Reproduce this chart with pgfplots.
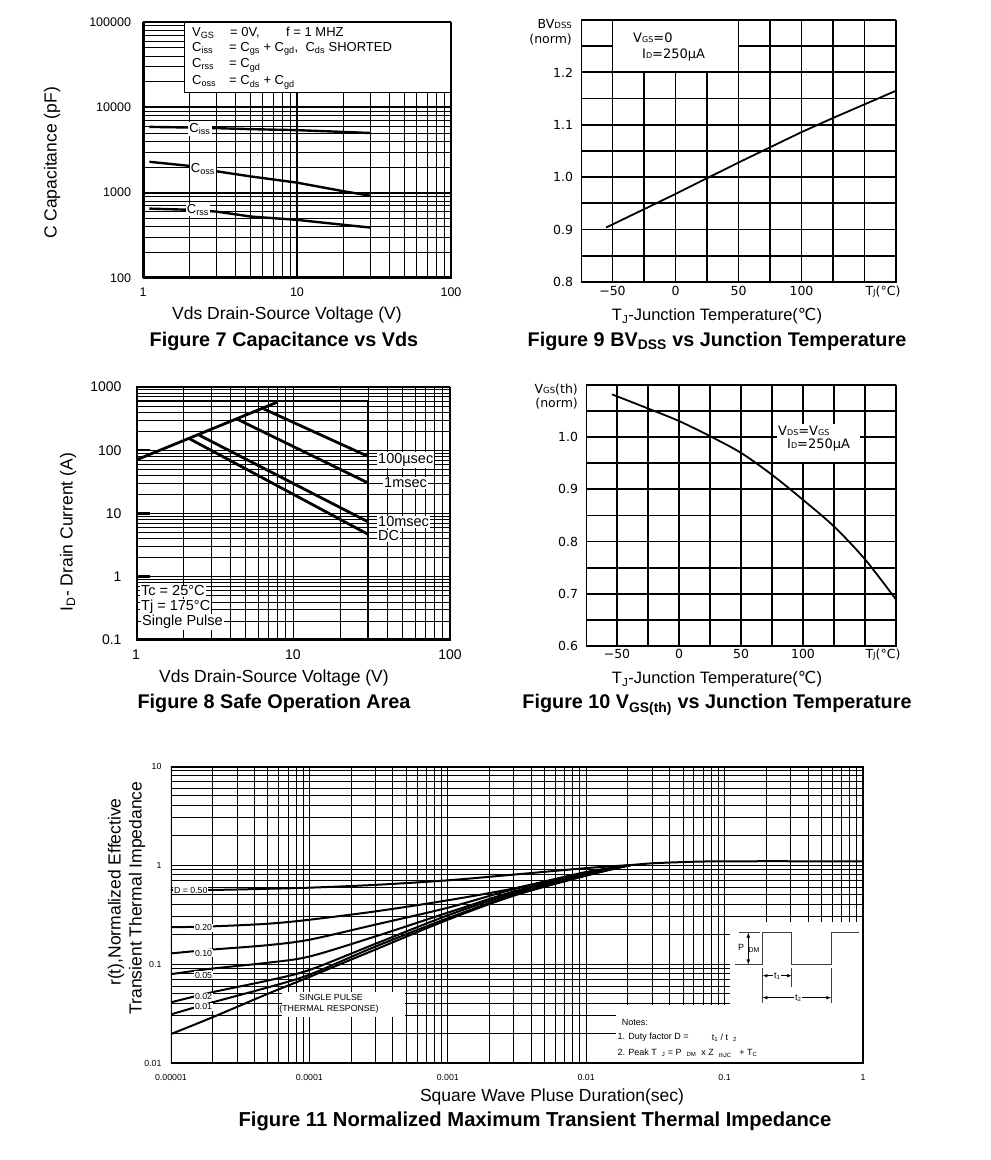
\documentclass[border=0pt]{standalone}
\usepackage{pgfplots}
\pgfplotsset{compat=1.18}
\usepackage{fontspec}
\setmainfont{Liberation Sans}
\newfontfamily\dv{DejaVu Sans}
\newcommand\fs[1]{\fontsize{#1}{#1}\selectfont}
\pgfplotsset{
  base/.style={scale only axis, anchor=south west, tick style={draw=none}, clip=true},
}
\begin{document}
\begin{tikzpicture}[x=1pt,y=1pt]
\fill[white] (0,0) rectangle (991,1160);
\path[use as bounding box] (0,0) rectangle (991,1160);

%================ Figure 7 =================
\begin{axis}[base, at={(143pt,882pt)}, width=308pt, height=256pt,
  xmode=log, ymode=log, xmin=1, xmax=100, ymin=100, ymax=100000,
  xtick={1,10,100}, xticklabels={1,10,100},
  ytick={100,1000,10000,100000}, yticklabels={100,1000,10000,100000},
  minor xtick={2,3,4,5,6,7,8,9,20,30,40,50,60,70,80,90},
  minor ytick={200,300,400,500,600,700,800,900,2000,3000,4000,5000,6000,7000,8000,9000,20000,30000,40000,50000,60000,70000,80000,90000},
  grid=both, major grid style={black,line width=2pt}, minor grid style={black,line width=0.8pt},
  ticklabel style={font=\fs{12.5}},
  yticklabel style={xshift=-8.5pt},
  xticklabel style={yshift=-6pt},
]
\fill[white] (axis cs:1.85,15100) rectangle (axis cs:100,100000);
\draw[line width=0.8pt] (axis cs:1.85,100000) -- (axis cs:1.85,15100) -- (axis cs:100,15100);
\addplot[line width=2.4pt] coordinates {(1.1,5900)(2,5800)(3,5700)(5,5550)(10,5400)(20,5150)(30,5000)};
\addplot[line width=2.4pt] coordinates {(1.1,2300)(2,2060)(3,1780)(5,1550)(10,1310)(20,1040)(30,920)};
\addplot[line width=2.4pt] coordinates {(1.1,650)(2,630)(3,600)(5,525)(10,480)(20,420)(30,390)};
\draw[line width=3pt] (rel axis cs:0,0) rectangle (rel axis cs:1,1);
\end{axis}
\node[rotate=90,font=\fs{17.5}] at (52,997) {C Capacitance (pF)};
\node[font=\fs{17.5}] at (287,845) {Vds Drain-Source Voltage (V)};
\node[font=\bfseries\fs{19.8},anchor=base] at (284,813.5) {Figure 7 Capacitance vs Vds};
\begin{scope}[every node/.style={font=\fs{13}, inner sep=0pt, anchor=base west}]
\node at (192,1123.6) {V\textsubscript{GS}};
\node at (230,1123.6) {= 0V,};
\node at (286,1123.6) {f = 1 MHZ};
\node at (192,1108.6) {C\textsubscript{iss}};
\node at (229,1108.6) {= C\textsubscript{gs} + C\textsubscript{gd}, \ C\textsubscript{ds} SHORTED};
\node at (192,1092) {C\textsubscript{rss}};
\node at (229,1092) {= C\textsubscript{gd}};
\node at (192,1075.3) {C\textsubscript{oss}};
\node at (229,1075.3) {= C\textsubscript{ds} + C\textsubscript{gd}};
\end{scope}
\begin{scope}[every node/.style={font=\fs{13}, inner sep=1pt, fill=white}]
\node at (200,1031) {C\textsubscript{iss}};
\node at (203,991) {C\textsubscript{oss}};
\node at (198,950) {C\textsubscript{rss}};
\end{scope}

%================ Figure 9 =================
\begin{axis}[base, at={(581pt,878pt)}, width=315pt, height=262pt,
  xmin=-75, xmax=175, ymin=0.8, ymax=1.3,
  xtick={-50,0,50,100}, xticklabels={−50,0,50,100},
  minor xtick={-25,25,75,125,150},
  ytick={0.8,0.9,1.0,1.1,1.2}, yticklabels={0.8,0.9,1.0,1.1,1.2},
  minor ytick={0.85,0.95,1.05,1.15,1.25},
  grid=both, major grid style={black,line width=1.8pt}, minor grid style={black,line width=1.8pt},
  ticklabel style={font=\dv\fs{12.5}},
  yticklabel style={xshift=-4.5pt},
  xticklabel style={yshift=-1pt},
]
\fill[white] (axis cs:-50,1.2) rectangle (axis cs:50,1.3);
\draw[line width=1.8pt] (axis cs:-50,1.3) -- (axis cs:-50,1.2) -- (axis cs:50,1.2) -- (axis cs:50,1.3);
\addplot[line width=1.8pt] coordinates {(-55,0.904)(0,0.968)(25,0.998)(50,1.028)(75,1.057)(100,1.086)(125,1.113)(150,1.139)(175,1.165)};
\draw[line width=2.8pt] (rel axis cs:0,0) rectangle (rel axis cs:1,1);
\end{axis}
\node[anchor=east,font=\dv\fs{12.5},inner sep=0pt] at (572,1136) {BV{\fs{8.5}DSS}};
\node[anchor=east,font=\dv\fs{12.5},inner sep=0pt] at (572,1120) {(norm)};
\node[font=\dv\fs{12.5}] at (883,868) {T{\fs{8.5}J}(°C)};
\node[anchor=west,font=\dv\fs{13},inner sep=0pt] at (633,1122) {V{\fs{8}GS}=0};
\node[anchor=west,font=\dv\fs{13},inner sep=0pt] at (642,1105) {I{\fs{8}D}=250μA};
\node[font=\fs{16.5},anchor=base] at (717,839.5) {T\textsubscript{J}-Junction Temperature({\dv ℃})};
\node[font=\bfseries\fs{19.8},anchor=base] at (717,813.5) {Figure 9 BV\textsubscript{DSS} vs Junction Temperature};

%================ Figure 8 =================
\begin{axis}[at={(136pt,520pt)}, anchor=south west, scale only axis, width=314pt, height=253pt,
  xmode=log, ymode=log, xmin=1, xmax=100, ymin=0.1, ymax=1000,
  xtick={1,10,100}, xticklabels={1,10,100},
  ytick={0.1,1,10,100,1000}, yticklabels={0.1,1,10,100,1000},
  minor xtick={2,3,4,5,6,7,8,9,20,30,40,50,60,70,80,90},
  minor ytick={0.2,0.3,0.4,0.5,0.6,0.7,0.8,0.9,2,3,4,5,6,7,8,9,20,30,40,50,60,70,80,90,200,300,400,500,600,700,800,900},
  grid=both, major grid style={black,line width=0.8pt}, minor grid style={black,line width=0.8pt},
  xtick style={draw=none}, minor tick length=0pt,
  ytick style={line width=2.5pt,black}, major tick length=14pt, tick align=inside, ytick pos=left,
  ticklabel style={font=\fs{14}},
  yticklabel style={xshift=-11pt},
  xticklabel style={yshift=-6pt},
]
\addplot[line width=2.8pt] coordinates {(1,70)(8,580)};
\addplot[line width=2.8pt] coordinates {(1,600)(30,600)(30,0.1)};
\addplot[line width=2.8pt] coordinates {(6.45,455)(30,80)};
\addplot[line width=2.8pt] coordinates {(4.47,305)(30,30.5)};
\addplot[line width=2.8pt] coordinates {(2.53,173)(30,7.4)};
\addplot[line width=2.8pt] coordinates {(2.18,153)(30,4.7)};
\draw[line width=3pt] (rel axis cs:0,0) rectangle (rel axis cs:1,1);
\end{axis}
\node[rotate=90,font=\fs{17.5}] at (68,628) {I\textsubscript{D}- Drain Current (A)};
\node[font=\fs{17.5}] at (274,482) {Vds Drain-Source Voltage (V)};
\node[font=\bfseries\fs{19.8},anchor=base] at (274,451) {Figure 8 Safe Operation Area};
\begin{scope}[every node/.style={font=\fs{14.5}, inner sep=1pt, fill=white, anchor=west}]
\node at (377,700) {100µsec};
\node at (383,677) {1msec};
\node at (377,638) {10msec};
\node at (377,624) {DC};
\node at (140,569) {Tc = 25°C};
\node at (140,553) {Tj = 175°C};
\node at (141,538) {Single Pulse};
\end{scope}

%================ Figure 10 =================
\begin{axis}[base, at={(586pt,514pt)}, width=310pt, height=261pt,
  xmin=-75, xmax=175, ymin=0.6, ymax=1.1,
  xtick={-50,0,50,100}, xticklabels={−50,0,50,100},
  minor xtick={-25,25,75,125,150},
  ytick={0.6,0.7,0.8,0.9,1.0}, yticklabels={0.6,0.7,0.8,0.9,1.0},
  minor ytick={0.65,0.75,0.85,0.95,1.05},
  grid=both, major grid style={black,line width=1.8pt}, minor grid style={black,line width=1.8pt},
  ticklabel style={font=\dv\fs{12.5}},
  yticklabel style={xshift=-4.5pt},
  xticklabel style={yshift=0pt},
]
\fill[white] (axis cs:79,0.952) rectangle (axis cs:146,1.025);
\addplot[line width=1.8pt, smooth] coordinates {(-54,1.082)(-25,1.055)(0,1.031)(25,1.002)(50,0.970)(75,0.928)(100,0.880)(125,0.829)(150,0.766)(175,0.689)};
\draw[line width=2.8pt] (rel axis cs:0,0) rectangle (rel axis cs:1,1);
\end{axis}
\node[anchor=east,font=\dv\fs{12.5},inner sep=0pt] at (578,770) {V{\fs{8.5}GS}(th)};
\node[anchor=east,font=\dv\fs{12.5},inner sep=0pt] at (578,756) {(norm)};
\node[font=\dv\fs{12.5}] at (883,505) {T{\fs{8.5}J}(°C)};
\node[anchor=west,font=\dv\fs{13},inner sep=0pt] at (778,729) {V{\fs{8}DS}=V{\fs{8}GS}};
\node[anchor=west,font=\dv\fs{13},inner sep=0pt] at (787,715) {I{\fs{8}D}=250μA};
\node[font=\fs{16.5},anchor=base] at (717,476.5) {T\textsubscript{J}-Junction Temperature({\dv ℃})};
\node[font=\bfseries\fs{19.8},anchor=base] at (717,451) {Figure 10 V\textsubscript{GS(th)} vs Junction Temperature};

%================ Figure 11 =================
\begin{axis}[base, at={(171pt,97pt)}, width=692pt, height=297pt,
  xmode=log, ymode=log, xmin=0.00001, xmax=1, ymin=0.01, ymax=10,
  xtick={0.00001,0.0001,0.001,0.01,0.1,1}, xticklabels={0.00001,0.0001,0.001,0.01,0.1,1},
  ytick={0.01,0.1,1,10}, yticklabels={0.01,0.1,1,10},
  minor xtick={0.00002,0.00003,0.00004,0.00005,0.00006,0.00007,0.00008,0.00009,
    0.0002,0.0003,0.0004,0.0005,0.0006,0.0007,0.0008,0.0009,
    0.002,0.003,0.004,0.005,0.006,0.007,0.008,0.009,
    0.02,0.03,0.04,0.05,0.06,0.07,0.08,0.09,
    0.2,0.3,0.4,0.5,0.6,0.7,0.8,0.9},
  minor ytick={0.02,0.03,0.04,0.05,0.06,0.07,0.08,0.09,0.2,0.3,0.4,0.5,0.6,0.7,0.8,0.9,2,3,4,5,6,7,8,9},
  grid=both, major grid style={black,line width=0.8pt}, minor grid style={black,line width=0.8pt},
  ticklabel style={font=\fs{8.8}},
  yticklabel style={xshift=-6pt},
  xticklabel style={yshift=-8pt},
]
\fill[white] (axis cs:0.0000633,0.0292) rectangle (axis cs:0.000491,0.0521);
\fill[white] (axis cs:0.0164,0.01) rectangle (axis cs:1,0.0386);
\fill[white] (axis cs:0.1094,0.01) rectangle (axis cs:1,0.267);
\addplot[line width=2pt, smooth] coordinates {(0.00001,0.56)(0.00002,0.56)(0.00005,0.575)(0.0001,0.59)(0.0003,0.63)(0.001,0.70)(0.003,0.80)(0.01,0.93)(0.021,1.0)(0.03,1.04)(0.05,1.07)(0.1,1.09)(1,1.09)};
\addplot[line width=2pt, smooth] coordinates {(0.00001,0.235)(0.00002,0.24)(0.00005,0.255)(0.0001,0.28)(0.0003,0.34)(0.001,0.44)(0.003,0.58)(0.01,0.85)(0.021,1.0)};
\addplot[line width=2pt, smooth] coordinates {(0.00001,0.128)(0.00002,0.14)(0.00005,0.155)(0.0001,0.176)(0.0003,0.25)(0.001,0.37)(0.003,0.57)(0.01,0.83)(0.021,1.0)};
\addplot[line width=2pt, smooth] coordinates {(0.00001,0.079)(0.00002,0.09)(0.00005,0.103)(0.0001,0.119)(0.0003,0.19)(0.001,0.33)(0.003,0.54)(0.01,0.81)(0.021,1.0)};
\addplot[line width=2pt, smooth] coordinates {(0.00001,0.041)(0.00002,0.052)(0.00005,0.068)(0.0001,0.087)(0.0003,0.16)(0.001,0.31)(0.003,0.52)(0.01,0.80)(0.021,1.0)};
\addplot[line width=2pt, smooth] coordinates {(0.00001,0.031)(0.00002,0.041)(0.00005,0.058)(0.0001,0.078)(0.0003,0.15)(0.001,0.29)(0.003,0.50)(0.01,0.79)(0.021,1.0)};
\addplot[line width=2pt, smooth] coordinates {(0.00001,0.0196)(0.00002,0.029)(0.00005,0.05)(0.0001,0.074)(0.0003,0.14)(0.001,0.28)(0.003,0.49)(0.01,0.78)(0.021,1.0)};
\draw[line width=3pt] (rel axis cs:0,0) rectangle (rel axis cs:1,1);
\end{axis}
\node[rotate=90,font=\fs{17.5}] at (116,268) {r(t),Normalized Effective};
\node[rotate=90,font=\fs{17.5}] at (137,262) {Transient Thermal Impedance};
\node[font=\fs{17.5}] at (552,63) {Square Wave Pluse Duration(sec)};
\node[font=\bfseries\fs{20.2},anchor=base] at (535,34) {Figure 11 Normalized Maximum Transient Thermal Impedance};
\begin{scope}[every node/.style={font=\fs{8.8}, inner sep=0.8pt, fill=white, anchor=west}]
\node at (173,270) {D = 0.50};
\node at (194,232.3) {0.20};
\node at (194,207) {0.10};
\node at (194,185) {0.05};
\node at (194,163.3) {0.02};
\node at (194,153.3) {0.01};
\end{scope}
\node[font=\fs{8.8},inner sep=0pt] at (331,163) {SINGLE PULSE};
\node[font=\fs{8.8},inner sep=0pt] at (329,151) {(THERMAL RESPONSE)};
% pulse diagram
\draw[line width=0.8pt, black!75] (735,195.7) -- (762.7,195.7) -- (762.7,227.3) -- (791.7,227.3) -- (791.7,195.7) -- (831,195.7) -- (831,227.3) -- (859.3,227.3);
\draw[line width=0.8pt, black!75] (739,227.3) -- (760,227.3);
\draw[line width=0.7pt, latex-latex] (748.3,227.3) -- (748.3,195.7);
\node[font=\fs{9},inner sep=0pt] at (741,212.5) {P};
\node[font=\fs{7},inner sep=0pt] at (754,209.5) {DM};
\draw[line width=0.7pt, black!75] (762.7,192) -- (762.7,157) (791.7,192) -- (791.7,173) (831,192) -- (831,157);
\draw[line width=0.6pt, latex-latex] (762.7,184.3) -- (791.7,184.3);
\draw[line width=0.6pt, latex-latex] (762.7,162.3) -- (831,162.3);
\node[font=\fs{9},inner sep=0.8pt,fill=white] at (777.3,184.3) {t\textsubscript{1}};
\node[font=\fs{9},inner sep=0.8pt,fill=white] at (798.3,162.3) {t\textsubscript{2}};
\begin{scope}[every node/.style={font=\fs{9}, inner sep=0pt, anchor=west}]
\node at (621.7,137.3) {Notes:};
\node at (617.3,122.7) {1. Duty factor D =};
\node at (711.7,122.7) {t\textsubscript{1} / t \ \textsubscript{2}};
\node at (617.3,106.7) {2. Peak T \ \textsubscript{J} = P \ \textsubscript{DM} \ x Z \ \textsubscript{thJC} \ \ + T\textsubscript{C}};
\end{scope}
\end{tikzpicture}
\end{document}
